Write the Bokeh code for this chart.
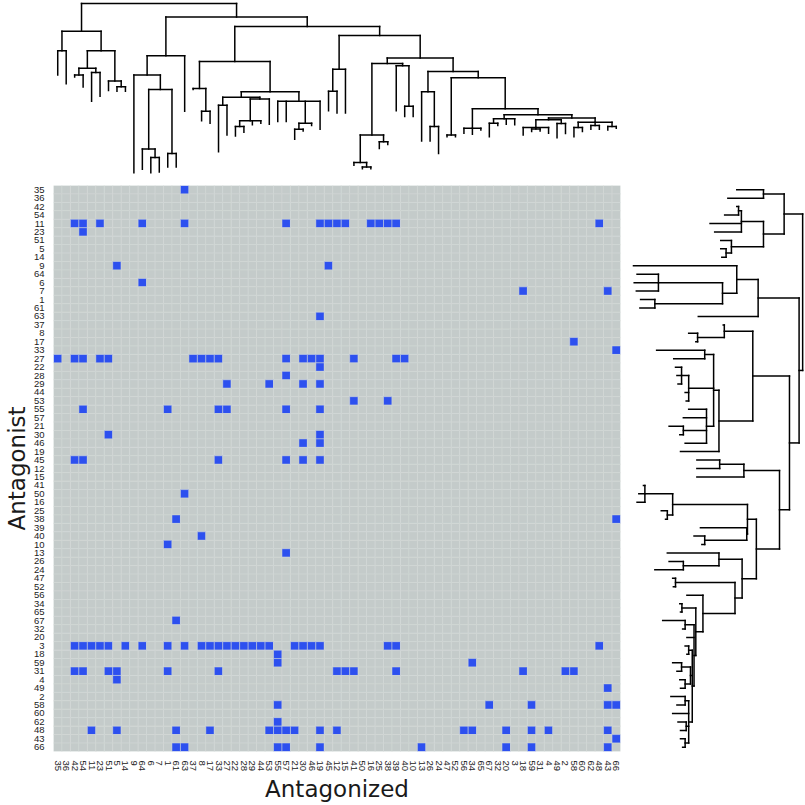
from math import pi
from bokeh.plotting import figure
from bokeh.layouts import column, row
from bokeh.models import Range1d, FixedTicker, ColumnDataSource
from bokeh.embed import file_html
from bokeh.resources import INLINE

# ---------------- data ----------------
# strain order (same for rows = antagonists and columns = antagonized)
strains = [35, 36, 42, 54, 11, 23, 51, 5, 14, 9, 64, 6, 7, 1, 61, 63, 37, 8, 17, 33,
           27, 22, 28, 29, 44, 53, 55, 57, 21, 30, 46, 19, 45, 12, 15, 41, 50, 16, 25, 38,
           39, 40, 10, 13, 26, 24, 47, 52, 56, 34, 65, 67, 32, 20, 3, 18, 59, 31, 4, 49,
           2, 58, 60, 62, 48, 43, 66]

# antagonist -> antagonized strains (blue cells)
antagonist = [35, 11, 23, 9, 6, 7, 63, 17, 33, 27, 22, 28, 29, 53, 55, 30, 46, 45, 50, 38,
              40, 10, 13, 67, 3, 18, 59, 31, 4, 49, 58, 62, 48, 43, 66]
antagonized = [
    [63],
    [42, 54, 23, 64, 63, 57, 19, 45, 12, 15, 16, 25, 38, 39, 48],
    [54],
    [5, 45],
    [64],
    [18, 43],
    [19],
    [58],
    [66],
    [35, 42, 54, 23, 51, 37, 8, 17, 33, 57, 30, 46, 19, 41, 39, 40],
    [19],
    [57],
    [27, 53, 30, 19],
    [41, 38],
    [54, 1, 33, 27, 57, 19],
    [51, 19],
    [30, 19],
    [42, 54, 33, 57, 30, 19],
    [63],
    [61, 66],
    [8],
    [1],
    [57],
    [61],
    [42, 54, 11, 23, 51, 14, 64, 1, 63, 8, 17, 33, 27, 22, 28, 29, 44, 53, 21, 30, 46, 19, 38, 39, 48],
    [55],
    [55, 34],
    [42, 54, 51, 5, 1, 33, 12, 15, 41, 39, 18, 2, 58],
    [5],
    [43],
    [55, 67, 59, 43, 66],
    [55],
    [11, 5, 61, 17, 53, 55, 57, 21, 19, 12, 56, 34, 20, 59, 4, 43],
    [66],
    [61, 63, 55, 57, 19, 13, 20, 59, 43],
]

# column dendrogram: [merge depth, children...]; a bare number is a leaf tip depth
top_tree = [10,
    [92, [150, 222, 248],
         [150, [202, [222, 228, 258], [215, 300, 285]], [240, 268, [257, 270, 270]]]],
    [50,
        [165, [222, 512, [265, [442, 502, [467, 512, 510]], [455, 495, 495]]], 330],
        [78,
            [182, [262, 265, [330, 358, 365]],
                  [272, [288, [312, 450, 400], [293, [358, [375, 403, 392], 370, 365], 368]],
                        [300, 360, 360, [365, [383, 413, 388], 372], 383]]],
            [105, [205, [270, 328, 335], 335],
                  [172, [188, [400, [482, 490, [495, 500, 500]], [420, 440, 428]],
                              [195, 328, [315, 345, 345]]],
                        [212, [272, 418, [375, 418, 455]],
                              [230, [400, 405, 405],
                                    [322, [380, 395, 398, 385],
                                          [340, [352, [365, 405, 372], 368, 370],
                                                [350, [355, [378, 400, [382, 390, 388], 395], [366, 408, 396]],
                                                      [362, [378, 405, 390], [372, 383, 383], [375, 385, 380]]]]]]]]]]]]

# row dendrogram: same format, depth grows towards the leaves (leftwards)
right_tree = [515,
    [463, [405, 330, 305],
          [405, [343, [335, 330, 296], 255, 268], [315, 285, [300, 285, 288]]]],
    [505,
        [390, [330, 40, [290, [110, 50, 42, 48], [100, 60, 58]]], 222],
        [478,
            [375, [295, 292, [220, 195, 215]],
                  [280, [265, [240, 105, 153], [195, [175, 158, 162, 165], 185, 188],
                              [245, 195, 180, [180, 140, 170], 185]],
                        172]],
            [450,
                [350, [282, 218, 218], 218],
                [385,
                    [360, [150, [72, 68, 55, 50], [135, 118, 130]], [358, 228, [240, 210, 232]]],
                    [345, [280, 135, [180, 140, 100]],
                          [325, [158, 150, 152],
                                [235, 190,
                                      [215, [176, 170, 172],
                                            [210, [185, 122, 178], 190,
                                                  [205, [195, 185, 190],
                                                        [200, [175, 150, 162], [185, 170, 172]],
                                                        [195, [185, 145, 162], 150, [188, 165, 172], [185, 172, 178]]]]]]]]]]]]]

# ---------------- helpers ----------------
def tree_segments(tree):
    p0, p1, d0, d1 = [], [], [], []
    counter = [0]

    def rec(node, parent):
        if isinstance(node, (int, float)):
            p = counter[0]
            counter[0] += 1
            p0.append(p); p1.append(p); d0.append(parent); d1.append(node)
            return p
        h = node[0]
        ps = [rec(c, h) for c in node[1:]]
        p0.append(ps[0]); p1.append(ps[-1]); d0.append(h); d1.append(h)
        p = (ps[0] + ps[-1]) / 2.0
        if parent is not None:
            p0.append(p); p1.append(p); d0.append(parent); d1.append(h)
        return p

    rec(tree, None)
    return p0, p1, d0, d1

n = len(strains)
idx = {s: i for i, s in enumerate(strains)}

GRAY = "#c4cbca"
BLUE = "#2d50ef"
FONT = "DejaVu Sans"

# ---------------- heatmap ----------------
blue = set()
for a, lst in zip(antagonist, antagonized):
    for b in lst:
        blue.add((idx[a], idx[b]))

xs, ys, cols = [], [], []
for i in range(n):
    for j in range(n):
        xs.append(j)
        ys.append(i)
        cols.append(BLUE if (i, j) in blue else GRAY)
src = ColumnDataSource(dict(x=xs, y=ys, c=cols))

heat = figure(width=628, height=620,
              x_range=Range1d(-0.5, n - 0.5), y_range=Range1d(n - 0.5, -0.5),
              output_backend="svg", toolbar_location=None,
              min_border_left=53, min_border_right=8, min_border_top=0, min_border_bottom=53,
              x_axis_label="Antagonized", y_axis_label="Antagonist")
heat.rect(x="x", y="y", width=1, height=1, source=src, fill_color="c",
          line_color="#d2d8d7", line_width=0.5)
heat.grid.visible = False
heat.outline_line_color = None
heat.background_fill_color = "white"
overrides = {i: str(s) for i, s in enumerate(strains)}
for ax in (heat.xaxis[0], heat.yaxis[0]):
    ax.ticker = FixedTicker(ticks=list(range(n)))
    ax.major_label_overrides = overrides
    ax.axis_line_color = None
    ax.major_tick_line_color = None
    ax.minor_tick_line_color = None
    ax.major_label_text_font = "Liberation Sans"
    ax.major_label_text_font_size = "9.5px"
    ax.major_label_text_color = "#222222"
    ax.major_label_standoff = 3
    ax.axis_label_text_font = FONT
    ax.axis_label_text_font_size = "23px"
    ax.axis_label_text_font_style = "normal"
    ax.axis_label_text_color = "#1a1a1a"
heat.xaxis[0].major_label_orientation = -pi / 2
heat.xaxis[0].axis_label_standoff = 2
heat.yaxis[0].axis_label_standoff = 1

# ---------------- top dendrogram ----------------
tp0, tp1, td0, td1 = tree_segments(top_tree)
top = figure(width=628, height=185,
             x_range=Range1d(-0.5, n - 0.5), y_range=Range1d(550, 1),
             output_backend="svg", toolbar_location=None,
             x_axis_location=None, y_axis_location=None,
             min_border_left=53, min_border_right=8, min_border_top=0, min_border_bottom=0)
top.segment(x0=tp0, y0=td0, x1=tp1, y1=td1, line_color="black", line_width=1.5, line_cap="square")
top.grid.visible = False
top.outline_line_color = None

# ---------------- right dendrogram ----------------
rp0, rp1, rd0, rd1 = tree_segments(right_tree)
right = figure(width=177, height=620,
               x_range=Range1d(26, 523), y_range=Range1d(n - 0.5, -0.5),
               output_backend="svg", toolbar_location=None,
               x_axis_location=None, y_axis_location=None,
               min_border_left=0, min_border_right=0, min_border_top=0, min_border_bottom=53)
right.segment(x0=rd0, y0=rp0, x1=rd1, y1=rp1, line_color="black", line_width=1.5, line_cap="square")
right.grid.visible = False
right.outline_line_color = None

layout = column(top, row(heat, right))
open("out.html", "w").write(file_html(layout, INLINE))
